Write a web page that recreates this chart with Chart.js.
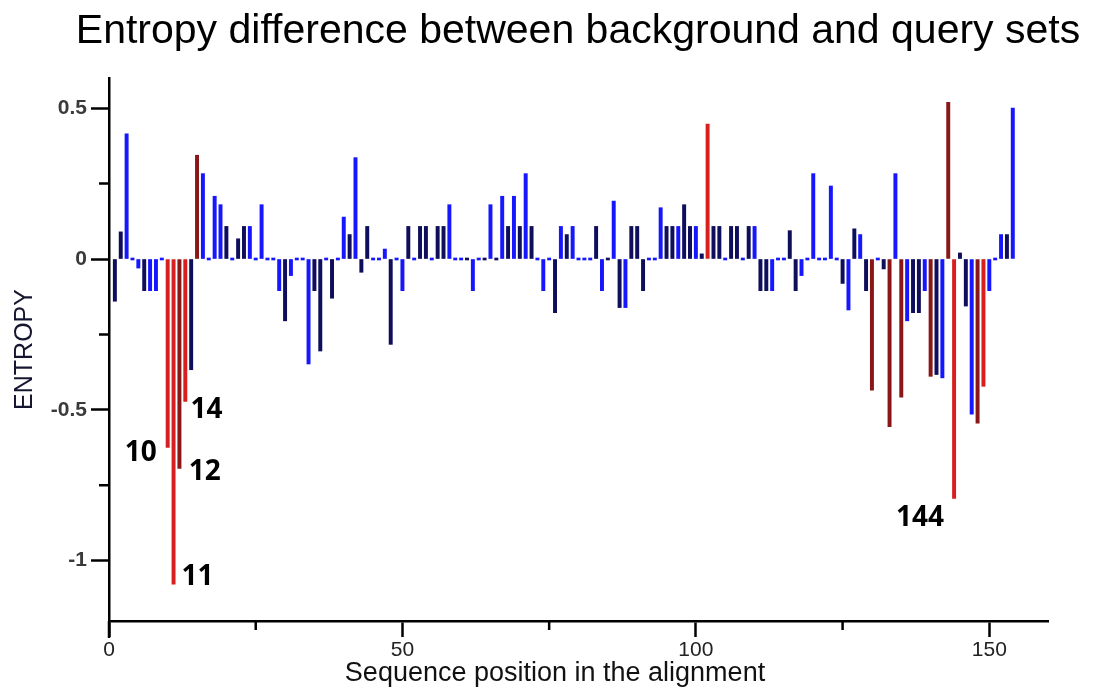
<!DOCTYPE html>
<html>
<head>
<meta charset="utf-8">
<script src="https://cdn.jsdelivr.net/npm/chart.js@4.4.0/dist/chart.umd.min.js"></script>
<style>
  html, body { margin: 0; padding: 0; background: #fff; }
</style>
</head>
<body>
<canvas id="chart" width="1098" height="691"></canvas>
<script>
// entropy difference for alignment positions 1..154
const entropy = [
  -0.14, 0.09, 0.415, 0, -0.03, -0.105, -0.105, -0.105, 0, -0.625,
  -1.078, -0.694, -0.472, -0.367, 0.344, 0.283, 0, 0.208, 0.18, 0.108,
  0, 0.067, 0.108, 0.108, 0, 0.18, 0, 0, -0.105, -0.205,
  -0.055, 0, 0, -0.348, -0.105, -0.305, 0, -0.13, 0, 0.139,
  0.081, 0.336, -0.044, 0.108, 0, 0, 0.033, -0.283, 0, -0.105,
  0.108, 0, 0.108, 0.108, 0, 0.108, 0.108, 0.18, 0, 0,
  0, -0.105, 0, 0, 0.18, 0, 0.208, 0.108, 0.208, 0.108,
  0.283, 0.108, 0, -0.105, 0, -0.178, 0.108, 0.081, 0.108, 0,
  0, 0, 0.108, -0.105, 0, 0.192, -0.161, -0.161, 0.108, 0.108,
  -0.105, 0, 0, 0.17, 0.108, 0.108, 0.108, 0.18, 0.108, 0.108,
  0.017, 0.447, 0.108, 0.108, 0, 0.108, 0.108, 0, 0.108, 0.108,
  -0.105, -0.105, -0.105, 0, 0, 0.094, -0.105, -0.055, 0, 0.283,
  0, 0, 0.242, 0, -0.081, -0.169, 0.1, 0.081, -0.105, -0.435,
  0, -0.033, -0.556, 0.283, -0.458, -0.205, -0.178, -0.178, -0.105, -0.389,
  -0.383, -0.394, 0.519, -0.794, 0.02, -0.156, -0.514, -0.544, -0.422, -0.105,
  0, 0.081, 0.081, 0.5
];
// bar class per position: a = blue, b = navy, c = red, d = dark red
const groups = (
  'bbaaabaaac' + 'cdcbdaaaab' + 'abbaaaaaab' +
  'aaaabbabaa' + 'babbaaabaa' + 'babbabbaaa' +
  'baabababab' + 'abaaababaa' + 'aababababb' +
  'baaabbabba' + 'bcbbabbaba' + 'bbaaabbaaa' +
  'aaaabababd' + 'abdadabbad' + 'badcbbadca' +
  'aaba'
).split('');
const positions = entropy.map((_, i) => i + 1);

const titleText = 'Entropy difference between background and query sets';
const xTitle = 'Sequence position in the alignment';
const yTitle = 'ENTROPY';
const xMajor = [0, 50, 100, 150];
const xMinor = [25, 75, 125];
const yMajor = [-1, -0.5, 0, 0.5];
const yMinor = [-0.75, -0.25, 0.25];

// highlighted positions written next to the bars
const noteText = ['10', '11', '12', '14', '144'];
const noteAt = [[5.4, -0.643], [15.1, -1.054], [16.3, -0.706], [16.6, -0.501], [138.2, -0.859]];

const palette = { a: '#1616ff', b: '#0e0e5c', c: '#d81f1f', d: '#8a1717' };

const near = (v, list) => list.some(m => Math.abs(m - v) < 1e-6);
const majorColor = list => c => (c.tick && near(c.tick.value, list)) ? '#000' : 'rgba(0,0,0,0)';

const overlay = {
  id: 'overlay',
  afterDraw(chart) {
    const { ctx, scales: { x, y } } = chart;
    ctx.save();
    ctx.strokeStyle = '#000';
    ctx.lineWidth = 2.5;
    ctx.beginPath();
    xMinor.forEach(v => {
      const px = x.getPixelForValue(v);
      ctx.moveTo(px, x.top);
      ctx.lineTo(px, x.top + 9);
    });
    yMinor.forEach(v => {
      const py = y.getPixelForValue(v);
      ctx.moveTo(y.right - 10, py);
      ctx.lineTo(y.right, py);
    });
    // axis line runs a little past the x axis
    ctx.moveTo(y.right, x.top);
    ctx.lineTo(y.right, x.top + 17);
    ctx.stroke();

    ctx.fillStyle = '#000';
    ctx.textAlign = 'center';
    ctx.textBaseline = 'alphabetic';
    ctx.font = '41px "Liberation Sans", Arial, sans-serif';
    ctx.fillText(titleText, 578, 43);

    ctx.fillStyle = '#111';
    ctx.font = '27px "Liberation Sans", Arial, sans-serif';
    ctx.fillText(xTitle, 555, 681);

    ctx.fillStyle = '#000';
    ctx.textBaseline = 'middle';
    ctx.font = 'bold 28px "Noto Sans", sans-serif';
    noteText.forEach((t, i) => {
      ctx.fillText(t, x.getPixelForValue(noteAt[i][0]), y.getPixelForValue(noteAt[i][1]));
    });
    ctx.restore();
  }
};

new Chart(document.getElementById('chart'), {
  type: 'bar',
  data: {
    datasets: [{
      data: positions.map((p, i) => ({ x: p, y: entropy[i] })),
      backgroundColor: groups.map(g => palette[g]),
      borderWidth: 0,
      barThickness: 3.3,
      minBarLength: 2
    }]
  },
  plugins: [overlay],
  options: {
    responsive: false,
    animation: false,
    devicePixelRatio: 1,
    layout: { padding: { top: 78, right: 50, left: 0, bottom: 0 } },
    plugins: {
      legend: { display: false },
      tooltip: { enabled: false },
      title: { display: false }
    },
    scales: {
      x: {
        type: 'linear',
        min: 0,
        max: 160,
        offset: false,
        afterFit: s => { s.height = 70; },
        border: { display: true, color: '#000', width: 2.5 },
        grid: {
          offset: false,
          drawOnChartArea: false,
          tickLength: 16,
          tickWidth: 2.5,
          tickColor: majorColor(xMajor)
        },
        ticks: {
          stepSize: 25,
          padding: 1,
          maxRotation: 0,
          autoSkip: false,
          color: '#222',
          font: { family: '"Liberation Sans", Arial, sans-serif', size: 21 },
          callback: v => near(v, xMajor) ? String(v) : ''
        }
      },
      y: {
        min: -1.2,
        max: 0.6,
        afterFit: s => { s.width = 109; },
        border: { display: true, color: '#000', width: 2.5 },
        grid: {
          offset: false,
          drawOnChartArea: false,
          tickLength: 18,
          tickWidth: 2.5,
          tickColor: majorColor(yMajor)
        },
        ticks: {
          stepSize: 0.25,
          padding: 4,
          autoSkip: false,
          color: '#3a3a3a',
          font: { family: '"Liberation Sans", Arial, sans-serif', size: 21, weight: 'bold' },
          callback: v => near(v, yMajor) ? String(Math.round(v * 2) / 2) : ''
        },
        title: {
          display: true,
          text: yTitle,
          color: '#151530',
          font: { family: '"Liberation Sans", Arial, sans-serif', size: 25 },
          padding: { top: 10, bottom: 0 }
        }
      }
    }
  }
});
</script>
</body>
</html>
